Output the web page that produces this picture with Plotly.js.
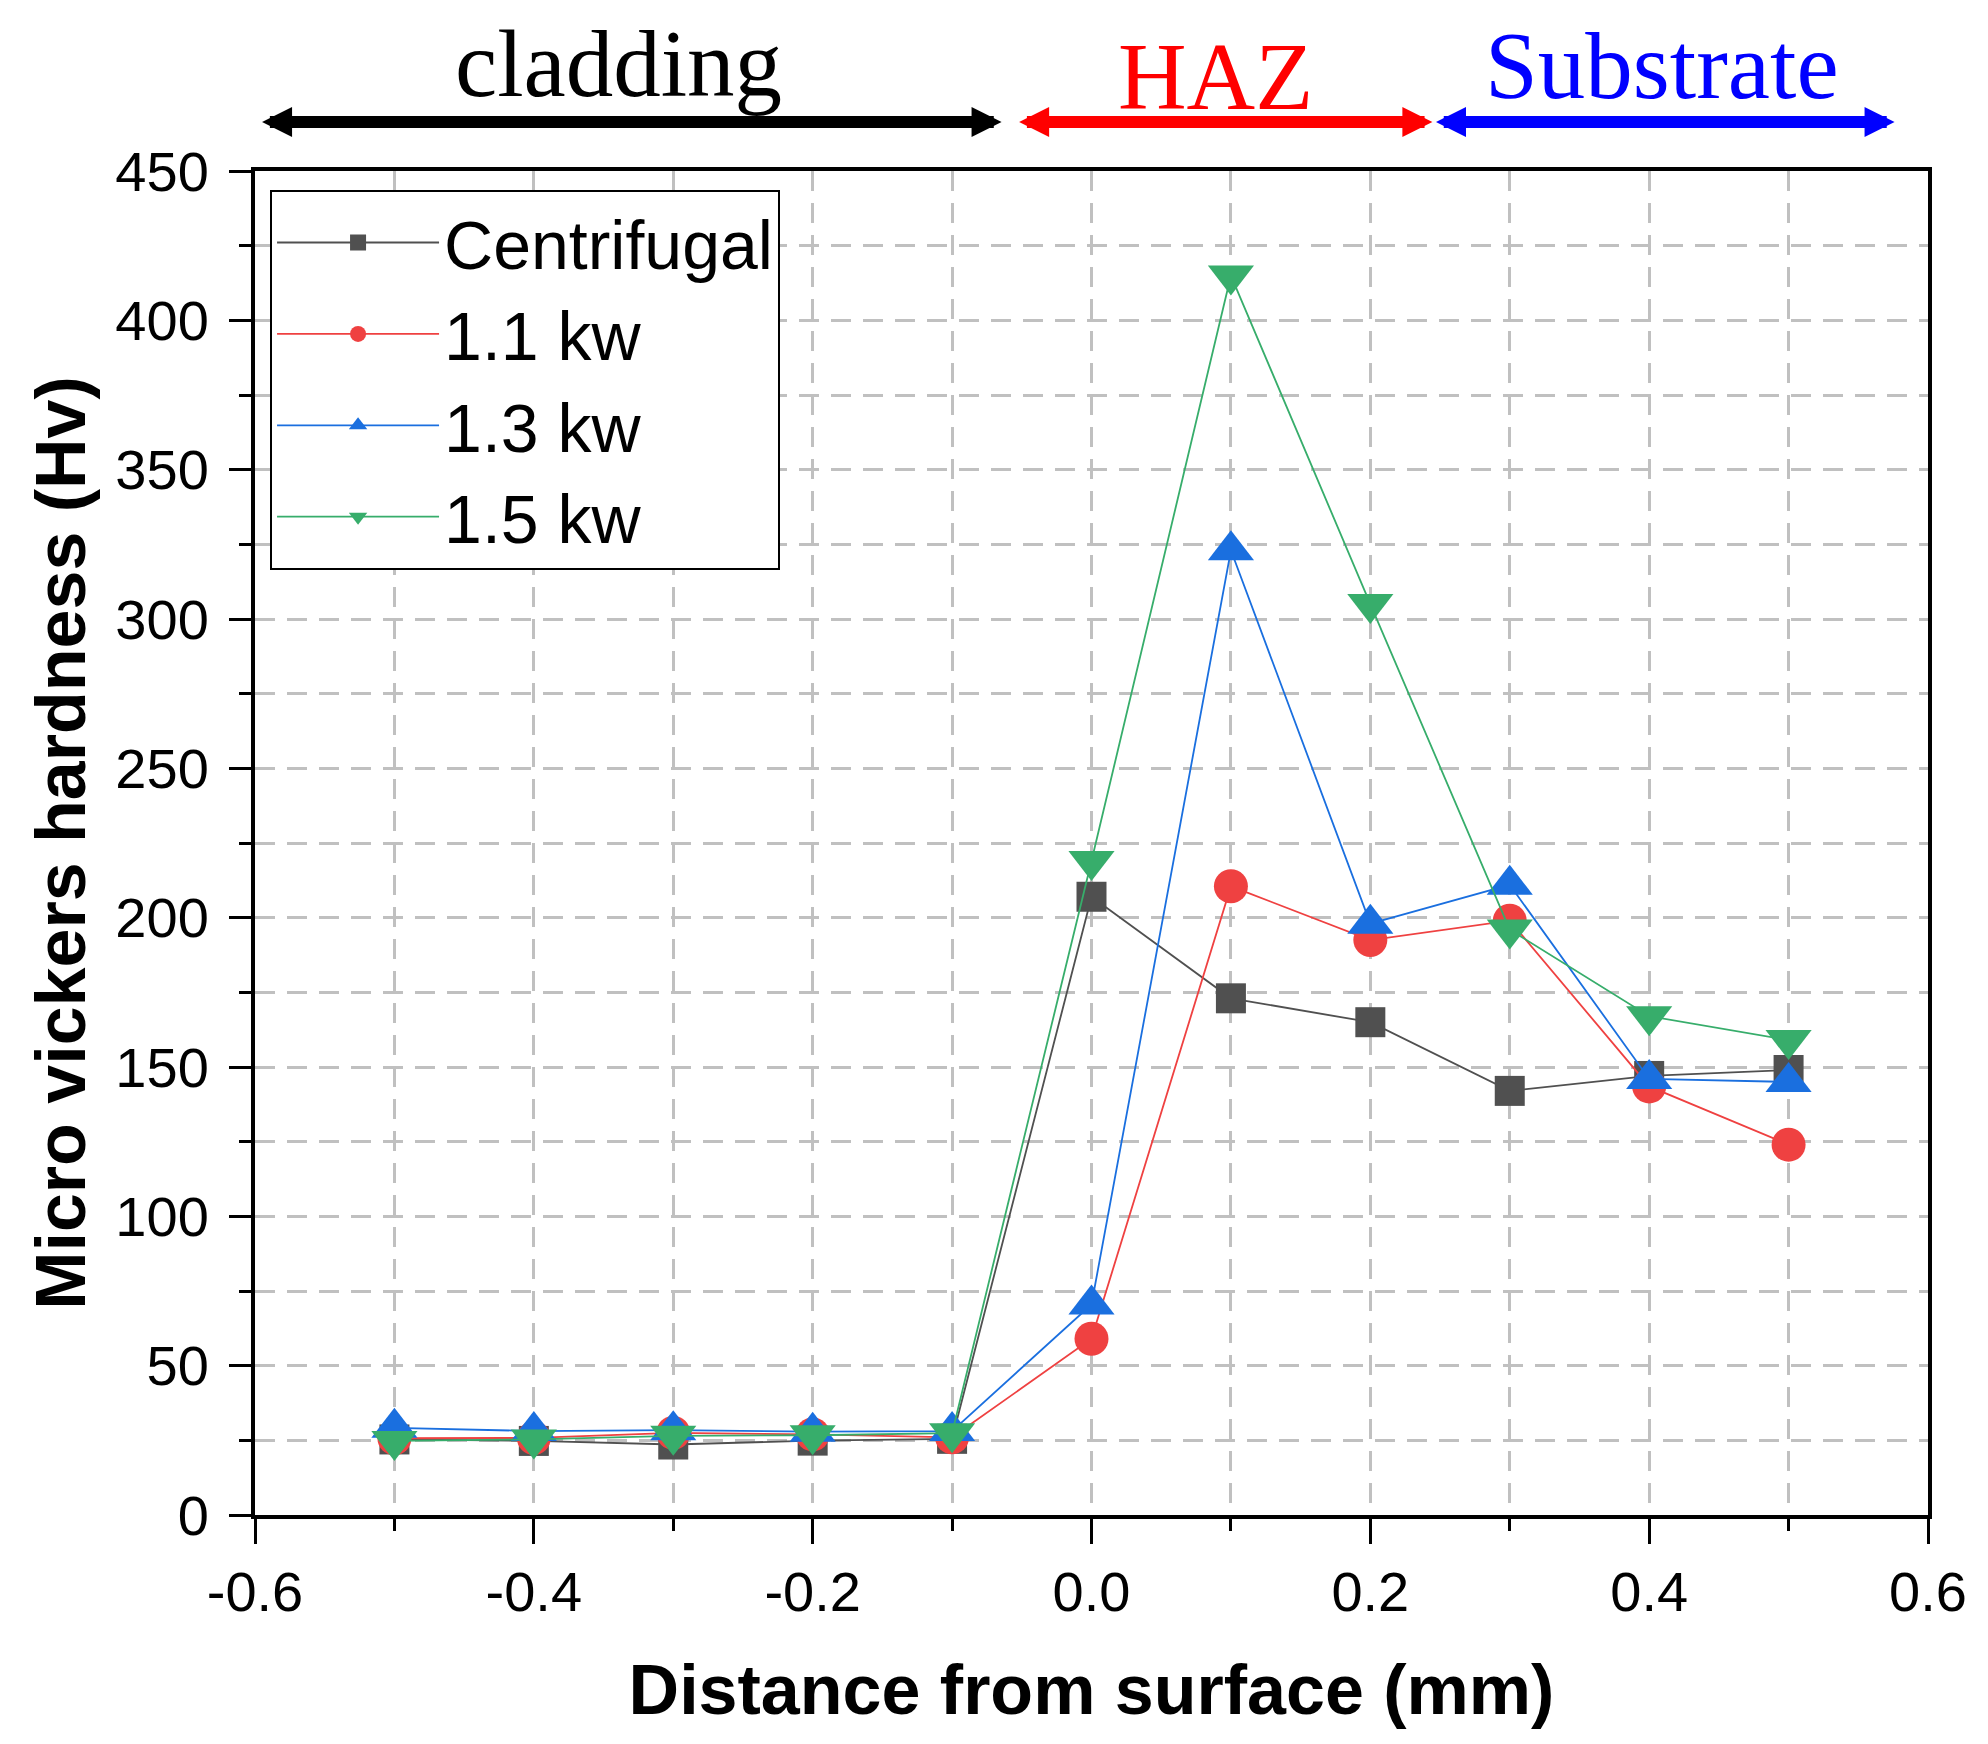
<!DOCTYPE html>
<html>
<head>
<meta charset="utf-8">
<script src="https://cdn.plot.ly/plotly-3.0.1.min.js"></script>
<style>
  body { margin: 0; background: #fff; }
  #chart { width: 1988px; height: 1744px; }
</style>
</head>
<body>
<div id="chart"></div>
<script>
// distance from surface (mm)
var distance = [-0.5, -0.4, -0.3, -0.2, -0.1, 0.0, 0.1, 0.2, 0.3, 0.4, 0.5];

// micro vickers hardness (Hv)
var centrifugal = [25.3, 24.8, 23.6, 24.9, 25.5, 207, 173, 165, 142, 147, 149];
var kw11 = [25.7, 25.8, 27.5, 27.0, 26.0, 59, 210.5, 192.5, 199, 143.5, 124];
var kw13 = [29.2, 28.1, 28.4, 27.9, 28.1, 70.5, 323, 198, 211, 146, 145];
var kw15 = [24.8, 25.3, 26.5, 26.7, 27.4, 219, 415, 305, 196, 167, 159];

var xTickVals = [-0.6, -0.4, -0.2, 0.0, 0.2, 0.4, 0.6];
var xTickLabels = ["-0.6", "-0.4", "-0.2", "0.0", "0.2", "0.4", "0.6"];

// zone bands over the plot: [start, end] in mm
var zoneNames = ["cladding", "HAZ", "Substrate"];
var zoneStart = [-0.596, -0.053, 0.246];
var zoneEnd = [-0.0645, 0.2445, 0.576];
var zoneLabelX = [-0.339, 0.089, 0.409];

var zoneColors = ["#000000", "#ff0000", "#0000ff"];
var zoneLabelY = [1.0796, 1.070, 1.078];

var font = "Liberation Sans, Arial, sans-serif";

function series(name, y, color, symbol, size) {
  return {
    x: distance,
    y: y,
    name: name,
    type: "scatter",
    mode: "lines+markers",
    line: { color: color, width: 1.8 },
    marker: { color: color, symbol: symbol, size: size, line: { width: 0 } },
    cliponaxis: false
  };
}

var data = [
  series("Centrifugal", centrifugal, "#505050", "square", 30),
  series("1.1 kw", kw11, "#ef4141", "circle", 34),
  series("1.3 kw", kw13, "#1a6fdf", "triangle-up", 40),
  series("1.5 kw", kw15, "#37ad6b", "triangle-down", 40)
];

var annotations = [];
zoneNames.forEach(function (name, i) {
  annotations.push({
    xref: "x", yref: "paper",
    x: zoneEnd[i], y: 1.0365,
    axref: "x", ayref: "pixel",
    ax: zoneStart[i], ay: 0,
    text: "", showarrow: true,
    arrowside: "end+start",
    arrowhead: 2, arrowsize: 0.5,
    arrowwidth: 12, arrowcolor: zoneColors[i],
    standoff: 0, startstandoff: 0
  });
  annotations.push({
    xref: "x", yref: "paper",
    x: zoneLabelX[i], y: zoneLabelY[i],
    xanchor: "center", yanchor: "middle",
    text: name, showarrow: false,
    font: { family: "Liberation Serif, Times New Roman, serif", size: 95, color: zoneColors[i] }
  });
});

var gridStyle = { gridcolor: "#c0c0c0", gridwidth: 3, griddash: "20px,12px" };

var layout = {
  width: 1988,
  height: 1744,
  margin: { l: 255, r: 60, t: 171, b: 229 },
  paper_bgcolor: "#ffffff",
  plot_bgcolor: "#ffffff",
  font: { family: font, color: "#000000" },
  showlegend: true,
  legend: {
    x: 0.009, y: 0.986, xanchor: "left", yanchor: "top",
    bgcolor: "#ffffff", bordercolor: "#000000", borderwidth: 2,
    font: { family: font, size: 68, color: "#000000" },
    tracegroupgap: 0, itemwidth: 162
  },
  xaxis: Object.assign({
    range: [-0.6, 0.6],
    tickmode: "array", tickvals: xTickVals, ticktext: xTickLabels,
    ticks: "outside", ticklen: 25, tickwidth: 3, tickcolor: "#000000",
    tickfont: { family: font, size: 56 },
    showline: true, linewidth: 4, linecolor: "#000000", mirror: true,
    zeroline: false, showgrid: true,
    minor: Object.assign({ dtick: 0.1, tick0: -0.6, ticks: "outside", ticklen: 12, tickwidth: 3, tickcolor: "#000000", showgrid: true }, gridStyle),
    title: { text: "<b>Distance from surface (mm)</b>", font: { family: font, size: 70 }, standoff: 44 }
  }, gridStyle),
  yaxis: Object.assign({
    range: [0, 450], dtick: 50, tick0: 0,
    ticks: "outside", ticklen: 22, tickwidth: 3, tickcolor: "#000000",
    tickfont: { family: font, size: 56 }, ticklabelstandoff: 9,
    showline: true, linewidth: 4, linecolor: "#000000", mirror: true,
    zeroline: false, showgrid: true,
    minor: Object.assign({ dtick: 25, tick0: 0, ticks: "outside", ticklen: 12, tickwidth: 3, tickcolor: "#000000", showgrid: true }, gridStyle),
    title: { text: "<b>Micro vickers hardness (Hv)</b>", font: { family: font, size: 70 }, standoff: 8 }
  }, gridStyle),
  annotations: annotations
};

Plotly.newPlot("chart", data, layout, { displayModeBar: false, responsive: false });
</script>
</body>
</html>
